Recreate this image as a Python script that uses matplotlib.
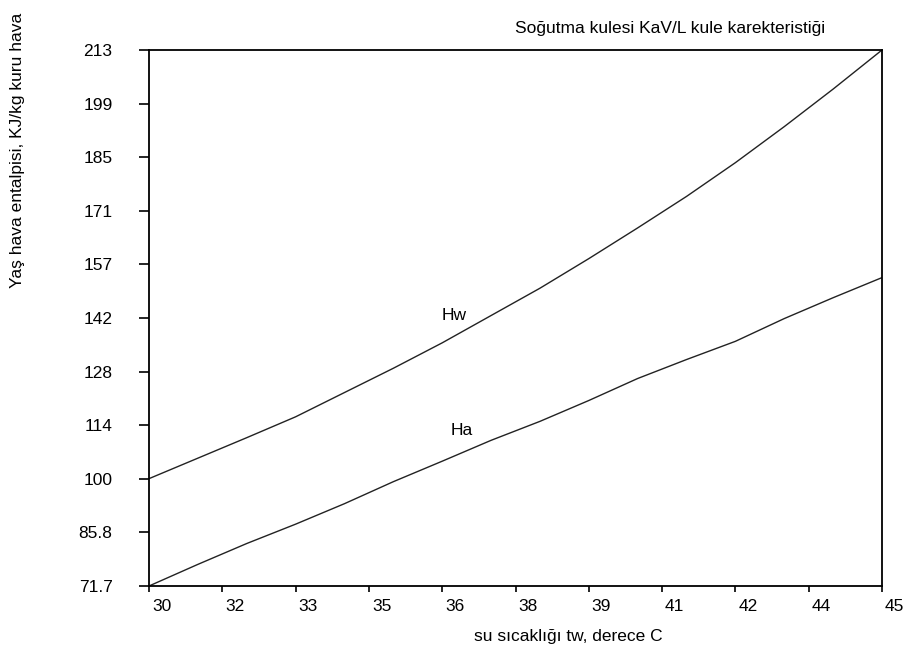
import matplotlib
matplotlib.use("Agg")
import matplotlib.pyplot as plt
import matplotlib.transforms as mtransforms
import numpy as np

plt.rcParams['font.family'] = ['Liberation Sans', 'DejaVu Sans']

# Data
tw = [30, 31, 32, 33, 34, 35, 36, 37, 38, 39, 40, 41, 42, 43, 44, 45]
hw = [100.0, 105.4, 110.8, 116.3, 122.7, 129.1, 135.8, 143.0, 150.2, 158.0,
      166.1, 174.4, 183.3, 192.8, 202.7, 213.0]
ha = [71.7, 77.4, 82.9, 88.0, 93.4, 99.2, 104.6, 110.1, 115.1, 120.6,
      126.4, 131.4, 136.2, 142.2, 147.7, 153.0]

xtick_labels = ["30", "32", "33", "35", "36", "38", "39", "41", "42", "44", "45"]
ytick_labels = ["71.7", "85.8", "100", "114", "128", "142", "157", "171", "185", "199", "213"]

title = "Soğutma kulesi KaV/L kule karekteristiği"
xlabel = "su sıcaklığı tw, derece C"
ylabel = "Yaş hava entalpisi, KJ/kg kuru hava"

W, H = 905, 652
fig = plt.figure(figsize=(W / 100, H / 100), dpi=100)
ax = fig.add_axes([149 / W, 1 - 586 / H, (882 - 149) / W, (586 - 50) / H])

ax.plot(tw, hw, color='#222222', lw=1.0)
ax.plot(tw, ha, color='#222222', lw=1.0)

ax.set_xlim(30, 45)
ax.set_ylim(71.7, 213)

ax.set_xticks(np.linspace(30, 45, len(xtick_labels)))
ax.set_xticklabels(xtick_labels)
ax.set_yticks(np.linspace(71.7, 213, len(ytick_labels)))
ax.set_yticklabels(ytick_labels)

fs = 12.5
ax.tick_params(axis='y', direction='out', length=7.2, width=1.2, pad=19, labelsize=fs, colors='black')
ax.tick_params(axis='x', direction='out', length=4.3, width=1.2, pad=5, labelsize=fs, colors='black')

offset = mtransforms.ScaledTranslation(3 / 100, 0, fig.dpi_scale_trans)
for lab in ax.get_xticklabels():
    lab.set_horizontalalignment('left')
    lab.set_transform(lab.get_transform() + offset)

for sp in ax.spines.values():
    sp.set_linewidth(1.3)
    sp.set_color('black')

ax.text(36.25, 143.1, "Hw", fontsize=fs, ha='center', va='center')
ax.text(36.40, 112.6, "Ha", fontsize=fs, ha='center', va='center')

fig.text(515 / W, 1 - 28 / H, title, fontsize=fs, ha='left', va='center')
fig.text(568 / W, 1 - 636 / H, xlabel, fontsize=fs, ha='center', va='center')
fig.text(18 / W, 1 - 150 / H, ylabel, fontsize=fs, ha='center', va='center', rotation=90)

fig.savefig("out.png", dpi=100)
